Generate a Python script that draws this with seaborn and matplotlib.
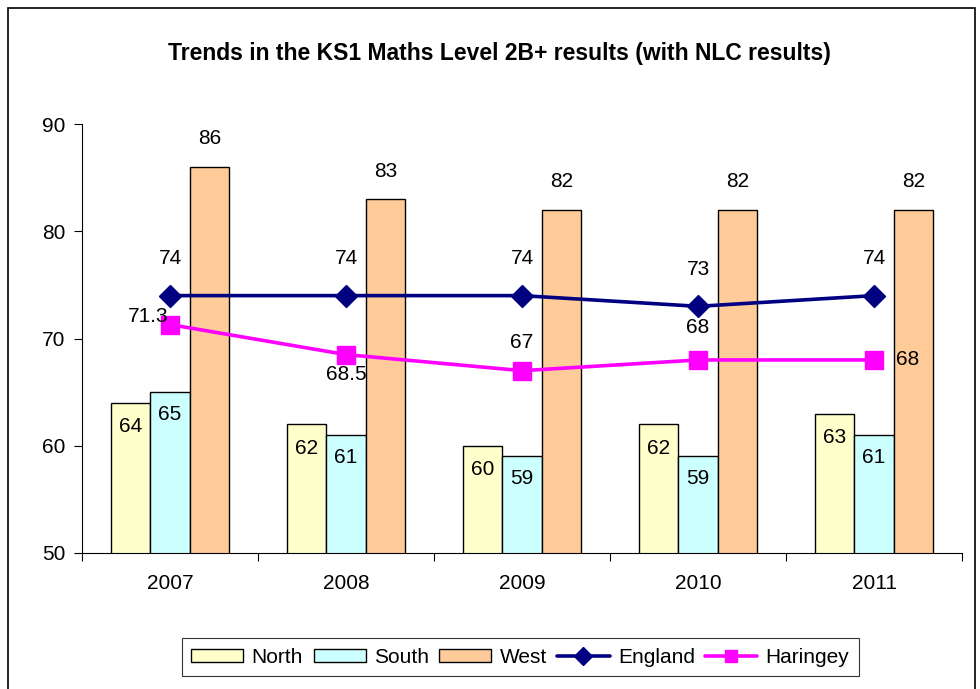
import numpy as np
import pandas as pd
import matplotlib
matplotlib.use("Agg")
import matplotlib.pyplot as plt
import seaborn as sns
from matplotlib.patches import Rectangle
from matplotlib.lines import Line2D
from matplotlib.patches import Patch

years = ["2007", "2008", "2009", "2010", "2011"]
north = [64, 62, 60, 62, 63]
south = [65, 61, 59, 59, 61]
west = [86, 83, 82, 82, 82]
england = [74, 74, 74, 73, 74]
haringey = [71.3, 68.5, 67, 68, 68]

sns.set_theme(style="white")
plt.rcParams["font.family"] = ["Liberation Sans", "DejaVu Sans"]
plt.rcParams["text.color"] = "black"

bar_colors = {"North": "#FFFFCC", "South": "#CCFFFF", "West": "#FFCC99"}

# Long format for seaborn barplot
df = pd.DataFrame({
    "year": years * 3,
    "area": ["North"] * 5 + ["South"] * 5 + ["West"] * 5,
    "value": north + south + west,
})

fig = plt.figure(figsize=(9.8, 6.89), dpi=100)
ax = fig.add_axes([0.0837, 0.1974, 0.898, 0.6226])

sns.barplot(data=df, x="year", y="value", hue="area", palette=bar_colors,
            width=0.67, gap=0, saturation=1, edgecolor="black", linewidth=1.0,
            legend=False, ax=ax)

xs = np.arange(len(years))
ax.plot(xs, england, color="#000080", lw=2.6, marker="D", markersize=11,
        zorder=5)
ax.plot(xs, haringey, color="#FF00FF", lw=2.6, marker="s", markersize=13,
        zorder=5)

ax.set_xlim(-0.5, 4.5)
ax.set_ylim(50, 90)
ax.set_yticks([50, 60, 70, 80, 90])
ax.set_xlabel("")
ax.set_ylabel("")

# tick marks between categories, labels at centres
ax.set_xticks(np.arange(-0.5, 5.0, 1.0))
ax.set_xticklabels([])
ax.set_xticks(xs, minor=True)
ax.set_xticklabels(years, minor=True)
ax.tick_params(axis="x", which="major", length=6, width=0.8, color="black",
               direction="out", bottom=True)
ax.tick_params(axis="x", which="minor", length=0, labelsize=15, pad=15,
               colors="black")
ax.tick_params(axis="y", length=6, width=0.8, color="black", direction="out",
               left=True, labelsize=15, pad=6, labelcolor="black")

for side in ["top", "right"]:
    ax.spines[side].set_visible(False)
for side in ["left", "bottom"]:
    ax.spines[side].set_color("black")
    ax.spines[side].set_linewidth(0.8)

# data labels
w = 0.67 / 3
lab = dict(textcoords="offset pixels", ha="center", va="center", fontsize=15,
           color="black", zorder=6)
for i in range(len(years)):
    ax.annotate(str(north[i]), (i - w, north[i]), xytext=(0, -24), **lab)
    ax.annotate(str(south[i]), (i, south[i]), xytext=(0, -22), **lab)
    ax.annotate(str(west[i]), (i + w, west[i]), xytext=(0, 28), **lab)
    ax.annotate(str(england[i]), (i, england[i]), xytext=(0, 37), **lab)

har_offsets = [(-22, 8), (0, -20), (0, 28), (0, 32), (34, 0)]
for i, off in enumerate(har_offsets):
    v = haringey[i]
    txt = str(int(v)) if float(v).is_integer() else str(v)
    ax.annotate(txt, (i, v), xytext=off, **lab)

fig.text(0.51, 0.923, "Trends in the KS1 Maths Level 2B+ results (with NLC results)",
         ha="center", va="center", fontsize=16.5, fontweight="bold",
         color="black")

handles = [
    Patch(facecolor=bar_colors["North"], edgecolor="black", label="North"),
    Patch(facecolor=bar_colors["South"], edgecolor="black", label="South"),
    Patch(facecolor=bar_colors["West"], edgecolor="black", label="West"),
    Line2D([], [], color="#000080", lw=2.6, marker="D", markersize=9, label="England"),
    Line2D([], [], color="#FF00FF", lw=2.6, marker="s", markersize=9, label="Haringey"),
]
leg = fig.legend(handles=handles, loc="center", bbox_to_anchor=(0.531, 0.046),
                 ncol=5, frameon=True, fancybox=False, fontsize=15,
                 handlelength=2.5, handleheight=0.6, handletextpad=0.4,
                 columnspacing=0.5, borderpad=0.45)
leg.get_frame().set_edgecolor("black")
leg.get_frame().set_linewidth(0.8)

# outer chart border
fig.patches.append(Rectangle((8 / 980, -0.01), 967 / 980, 1 - 8 / 689 + 0.01,
                             transform=fig.transFigure, fill=False,
                             edgecolor="black", linewidth=1.2))

fig.savefig("out.png", dpi=100)
